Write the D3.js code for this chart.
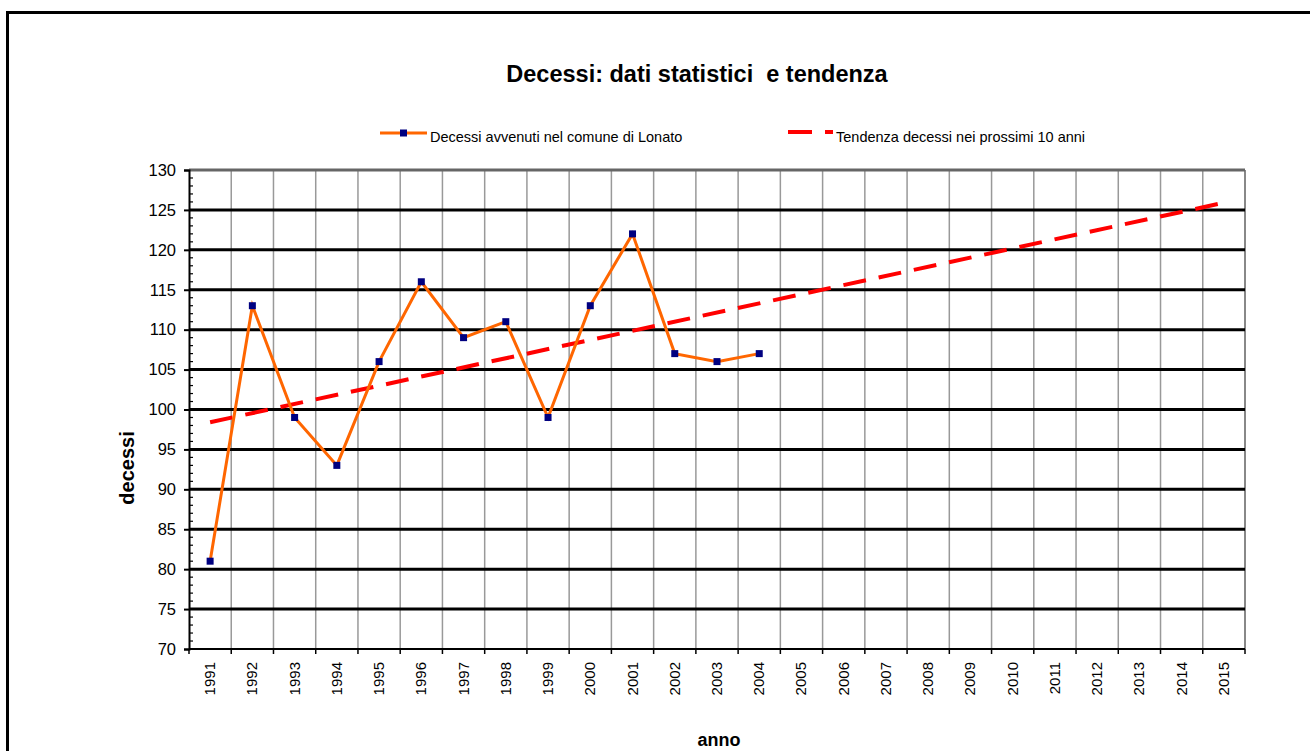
<!DOCTYPE html>
<html><head><meta charset="utf-8">
<script src="https://cdn.jsdelivr.net/npm/d3@7"></script>
<style>body{margin:0;background:#fff}svg{display:block}text{white-space:pre}</style>
</head><body>
<svg id="c" width="1310" height="751"></svg>
<script>
const years = ["1991","1992","1993","1994","1995","1996","1997","1998","1999","2000","2001","2002","2003","2004","2005","2006","2007","2008","2009","2010","2011","2012","2013","2014","2015"];
const deathYears = ["1991","1992","1993","1994","1995","1996","1997","1998","1999","2000","2001","2002","2003","2004"];
const deaths = [81,113,99,93,106,116,109,111,99,113,122,107,106,107];
const trendYears = ["1991","2015"];
const trendValues = [98.4,125.9];
const yTicks = [70,75,80,85,90,95,100,105,110,115,120,125,130];
const titleText = "Decessi: dati statistici  e tendenza";
const legendLabels = ["Decessi avvenuti nel comune di Lonato","Tendenza decessi nei prossimi 10 anni"];

const svg = d3.select("#c");
const font = "Arial, 'Liberation Sans', sans-serif";
const L=189, R=1245, T=170, B=649;
const x = d3.scaleBand().domain(years).range([L,R]).padding(0);
const y = d3.scaleLinear().domain([70,130]).range([B,T]);
const cx = d => x(d)+x.bandwidth()/2;

// frame
svg.append("rect").attr("x",7.5).attr("y",12.5).attr("width",1400).attr("height",900)
  .attr("fill","none").attr("stroke","#000").attr("stroke-width",3);

// vertical grid (band boundaries)
const g = svg.append("g");
years.forEach((yr,i)=>{
  if(i===0) return;
  g.append("line").attr("x1",x(yr)).attr("x2",x(yr)).attr("y1",T).attr("y2",B)
   .attr("stroke","#999").attr("stroke-width",1.5);
});
g.append("line").attr("x1",R).attr("x2",R).attr("y1",T).attr("y2",B).attr("stroke","#888").attr("stroke-width",2);
// horizontal grid
yTicks.forEach(v=>{
  if(v===70) return;
  g.append("line").attr("x1",L).attr("x2",R).attr("y1",y(v)).attr("y2",y(v))
   .attr("stroke", v===130?"#666":"#000").attr("stroke-width", 3);
});

// y axis
const yAxis = d3.axisLeft(y).tickValues(yTicks).tickSize(5).tickPadding(8);
const ya = svg.append("g").attr("transform",`translate(${L},0)`).call(yAxis);
ya.select(".domain").attr("stroke","#000").attr("stroke-width",2);
ya.selectAll(".tick line").attr("stroke","#000").attr("stroke-width",2);
ya.selectAll("text").attr("font-family",font).attr("font-size",16.5).attr("fill","#000");
// minor ticks inside
const minor = d3.range(70,131,1).filter(v=>v%5!==0);
svg.append("g").selectAll("line").data(minor).join("line")
  .attr("x1",L).attr("x2",L+4).attr("y1",d=>y(d)).attr("y2",d=>y(d))
  .attr("stroke","#000").attr("stroke-width",1.2);

// x axis
const xa = svg.append("g").attr("transform",`translate(0,${B})`);
xa.append("line").attr("x1",L).attr("x2",R).attr("y1",0).attr("y2",0).attr("stroke","#000").attr("stroke-width",2);
years.concat(["end"]).forEach((yr,i)=>{
  const px = i<years.length ? x(yr) : R;
  xa.append("line").attr("x1",px).attr("x2",px).attr("y1",0).attr("y2",5).attr("stroke","#000").attr("stroke-width",1.5);
});
xa.selectAll("text.lbl").data(years).join("text").attr("class","lbl")
  .attr("transform",d=>`translate(${cx(d)+5},${13}) rotate(-90)`)
  .attr("text-anchor","end").attr("font-family",font).attr("font-size",15).attr("fill","#000")
  .text(d=>d);

// trend line
svg.append("line")
  .attr("x1",cx(trendYears[0])).attr("y1",y(trendValues[0]))
  .attr("x2",cx(trendYears[1])).attr("y2",y(trendValues[1]))
  .attr("stroke","#FF0000").attr("stroke-width",4).attr("stroke-dasharray","23,13");

// deaths line
const line = d3.line().x((d,i)=>cx(deathYears[i])).y(d=>y(d));
svg.append("path").datum(deaths).attr("d",line).attr("fill","none")
  .attr("stroke","#FF6600").attr("stroke-width",3).attr("stroke-linejoin","miter");
svg.append("g").selectAll("rect").data(deaths).join("rect")
  .attr("x",(d,i)=>cx(deathYears[i])-3.5).attr("y",d=>y(d)-3.5)
  .attr("width",7).attr("height",7).attr("fill","#000080");

// title
svg.append("text").attr("x",697).attr("y",82).attr("text-anchor","middle")
  .attr("font-family",font).attr("font-size",23.5).attr("font-weight","bold").text(titleText);

// legend
const lg = svg.append("g");
lg.append("line").attr("x1",380).attr("x2",427).attr("y1",133).attr("y2",133).attr("stroke","#FF6600").attr("stroke-width",3);
lg.append("rect").attr("x",400).attr("y",129.5).attr("width",7).attr("height",7).attr("fill","#000080");
lg.append("text").attr("x",430).attr("y",142).attr("font-family",font).attr("font-size",14.5).attr("fill","#000").text(legendLabels[0]);
lg.append("line").attr("x1",788).attr("x2",833).attr("y1",132).attr("y2",132).attr("stroke","#FF0000").attr("stroke-width",4).attr("stroke-dasharray","24,13");
lg.append("text").attr("x",836).attr("y",142).attr("font-family",font).attr("font-size",14.5).attr("fill","#000").text(legendLabels[1]);

// axis titles
svg.append("text").attr("transform","translate(134,468) rotate(-90)").attr("text-anchor","middle")
  .attr("font-family",font).attr("font-size",20).attr("font-weight","bold").text("decessi");
svg.append("text").attr("x",719).attr("y",746).attr("text-anchor","middle")
  .attr("font-family",font).attr("font-size",18).attr("font-weight","bold").text("anno");
</script>
</body></html>
